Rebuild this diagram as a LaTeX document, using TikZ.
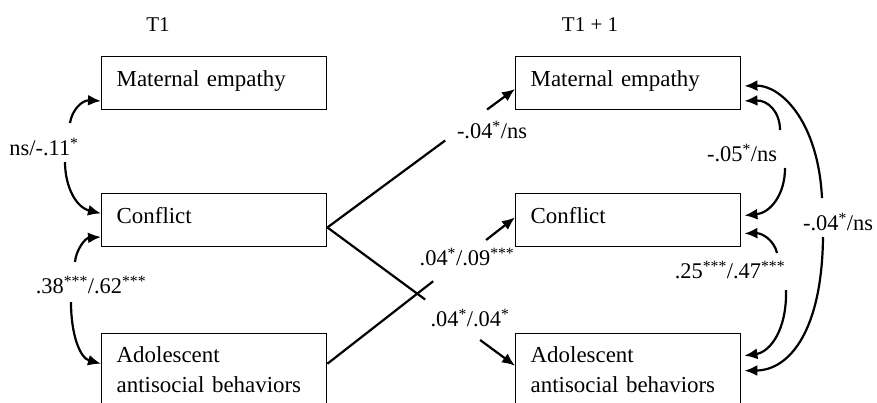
\documentclass[tikz,border=0pt]{standalone}
\usepackage{fontspec}
\setmainfont{Liberation Serif}
\usetikzlibrary{arrows.meta,calc}
\newcommand{\sig}[1]{\textsuperscript{#1}}
\begin{document}
\begin{tikzpicture}[x=1pt,y=-1pt,
  box/.style={draw, line width=1.4pt, anchor=north west, minimum width=225pt,
    minimum height=52.5pt, inner sep=0pt, text width=195pt, align=left,
    font=\fontsize{22.9}{30}\selectfont},
  single/.style={text height=15.6pt, text depth=8.6pt},
  lab/.style={font=\fontsize{22.4}{26}\selectfont, inner sep=1pt},
  ttl/.style={font=\fontsize{21}{25}\selectfont},
  arr/.style={line width=2.2pt, -{Latex[length=13pt,width=11pt]}},
  ln/.style={line width=2.2pt}]
\clip (0,0) rectangle (877,402);
\fill[white] (0,0) rectangle (877,402);

% titles
\node[ttl] (t1) at (158,25) {T1};
\node[ttl] (t2) at (590,25) {T1 + 1};

% boxes
\node[box,single] (m1) at (101,56) {Maternal empathy};
\node[box,single] (c1) at (101,193) {Conflict};
\node[box,minimum height=72pt] (a1) at (101,333) {Adolescent\\antisocial behaviors};
\node[box,single] (m2) at (515,56) {Maternal empathy};
\node[box,single] (c2) at (515,193) {Conflict};
\node[box,minimum height=72pt] (a2) at (515,333) {Adolescent\\antisocial behaviors};

% labels
\node[lab] (lA) at (44,147) {ns/-.11\sig{*}};
\node[lab] (lB) at (91,285) {.38\sig{***}/.62\sig{***}};
\node[lab] (lC) at (492,130) {-.04\sig{*}/ns};
\node[lab] (lD) at (467,257) {.04\sig{*}/.09\sig{***}};
\node[lab] (lE) at (470,318) {.04\sig{*}/.04\sig{*}};
\node[lab] (lF) at (742,153) {-.05\sig{*}/ns};
\node[lab] (lG) at (730,270) {.25\sig{***}/.47\sig{***}};
\node[lab] (lH) at (838,222) {-.04\sig{*}/ns};

% curve start points
\coordinate (sA1) at (70,123);
\coordinate (sA2) at (65,162);
\coordinate (sB1) at (75,262);
\coordinate (sB2) at (71,302);
\coordinate (sF1) at (780,130);
\coordinate (sF2) at (785,168);
\coordinate (sG1) at (777,253);
\coordinate (sG2) at (786,290);
\coordinate (sH1) at (822,198);
\coordinate (sH2) at (823,237);

% left correlations
\draw[arr] (sA1) .. controls (72,110) and (82,100) .. ([yshift=-18pt]m1.west);
\draw[arr] (sA2) .. controls (65,185) and (75,207) .. ([yshift=6.5pt]c1.west);
\draw[arr] (sB1) .. controls (76,250) and (85,238) .. ([yshift=-17pt]c1.west);
\draw[arr] (sB2) .. controls (71,335) and (80,358) .. ([yshift=6pt]a1.west);

% right correlations
\draw[arr] (sF1) .. controls (780,112) and (768,100) .. ([xshift=3pt,yshift=-18pt]m2.east);
\draw[arr] (sF2) .. controls (785,195) and (770,213) .. ([xshift=3pt,yshift=4.5pt]c2.east);
\draw[arr] (sG1) .. controls (774,240) and (762,233) .. ([xshift=3pt,yshift=-13.5pt]c2.east);
\draw[arr] (sG2) .. controls (787,330) and (770,352) .. ([xshift=3pt,yshift=14pt]a2.east);
\draw[arr] (sH1) .. controls (818,120) and (780,85) .. ([xshift=3pt,yshift=-3pt]m2.east);
\draw[arr] (sH2) .. controls (822,330) and (790,370) .. ([xshift=3pt,yshift=-1pt]a2.east);

% cross-lagged paths
\coordinate (cS) at ([yshift=-7.5pt]c1.east);
\coordinate (mE) at ([yshift=-6pt]m2.west);
\coordinate (aE) at ([yshift=4pt]a2.west);
\coordinate (aS) at ([yshift=6pt]a1.east);
\coordinate (cE) at ([yshift=2.5pt]c2.west);
\draw[ln] (cS) -- ($(cS)!0.628!(mE)$);
\draw[arr] ($(cS)!0.851!(mE)$) -- (mE);
\draw[ln] (cS) -- ($(cS)!0.521!(aE)$);
\draw[arr] ($(cS)!0.814!(aE)$) -- (aE);
\draw[ln] (aS) -- ($(aS)!0.564!(cE)$);
\draw[arr] ($(aS)!0.846!(cE)$) -- (cE);
\end{tikzpicture}
\end{document}
